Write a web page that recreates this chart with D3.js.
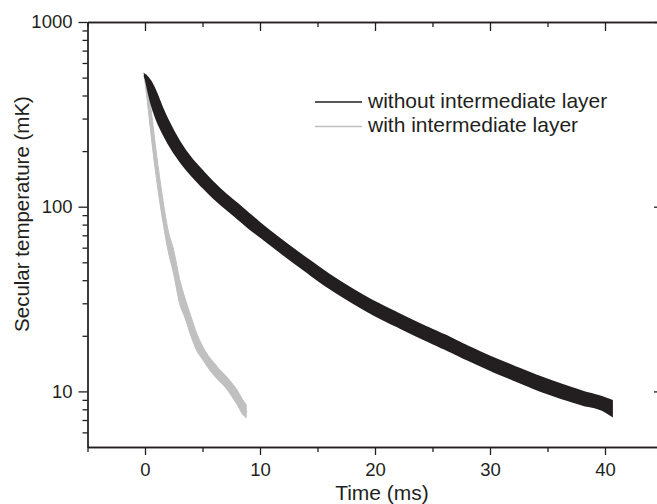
<!DOCTYPE html>
<meta charset="utf-8">
<style>
body { margin: 0; background: #fff; }
.axis path, .axis line { stroke: #231f20; stroke-width: 1.3; }
.axis text { fill: #231f20; }
</style>
<svg width="657" height="504"></svg>
<script src="https://d3js.org/d3.v7.min.js"></script>
<script>

// ---- data (time in ms, temperature in mK) ----
var blackTime = [0, 0.25, 0.5, 1, 1.5, 2, 3, 4, 5, 6, 7, 8, 9, 10, 12, 14, 16, 18, 20,
                 22, 24, 26, 28, 30, 32, 34, 36, 38, 40, 40.6];
var blackMid  = [517, 465, 420, 350, 295, 255, 200, 165, 141, 122, 107, 95, 84, 75, 60, 48.5, 39.5, 33, 28,
                 24.3, 21.2, 18.6, 16.2, 14.2, 12.6, 11.2, 10.1, 9.2, 8.5, 8.1];
var blackHigh = [517, 500, 476, 411, 343, 293, 225, 183, 156, 134, 117, 104, 92, 81.4, 65, 52.6, 42.9, 35.8, 30.4,
                 26.4, 23, 20.2, 17.6, 15.4, 13.7, 12.2, 11, 10, 9.2, 8.9];
var blackLow  = [517, 432, 371, 298, 254, 222, 178, 149, 128, 111, 98, 87, 77, 69, 55.3, 44.7, 36.4, 30.4, 25.8,
                 22.4, 19.5, 17.1, 14.9, 13.1, 11.6, 10.3, 9.3, 8.5, 7.8, 7.4];

var grayTime = [0, 0.5, 1, 1.5, 2, 2.5, 3, 3.5, 4, 4.5, 5, 5.5, 6, 6.5, 7, 7.5, 8, 8.5, 8.8];
var grayMid  = [517, 295, 165, 100, 66, 49.8, 35, 28, 22.5, 18.5, 16.2, 14.5, 13.2, 12.2, 11.3, 10.3, 9.3, 8.2, 7.7];
var grayHigh = [517, 345, 192, 115, 75, 58, 40.8, 31.6, 25.4, 20.6, 17.6, 15.6, 14.3, 13.1, 12.2, 11.2, 10.2, 9.0, 8.5];
var grayLow  = [517, 253, 141, 87, 58, 43, 30, 24.8, 19.9, 16.6, 14.9, 13.4, 12.2, 11.3, 10.5, 9.5, 8.5, 7.5, 7.2];

var seriesNames = ["without intermediate layer", "with intermediate layer"];
var seriesColors = ["#231f20", "#c0c0c0"];

var xMajor = [0, 10, 20, 30, 40];
var xMinor = [-5, 5, 15, 25, 35, 45];
var yMajor = [10, 100, 1000];
var yMinor = [6, 7, 8, 9, 20, 30, 40, 50, 60, 70, 80, 90, 200, 300, 400, 500, 600, 700, 800, 900];

var svg = d3.select("svg"),
    plotLeft = 87.5, plotRight = 662.5, plotTop = 22, plotBottom = 447,
    font = "Arial, 'Liberation Sans', Helvetica, sans-serif";

var x = d3.scaleLinear().domain([-5, 45]).range([plotLeft, plotRight]);
var y = d3.scaleLog().domain([5, 1000]).range([plotBottom, plotTop]);

function rows(t, mid, lo, hi) {
  return t.map(function(d, i) { return {t: d, mid: mid[i], lo: lo[i], hi: hi[i]}; });
}
var gray = rows(grayTime, grayMid, grayLow, grayHigh);
var black = rows(blackTime, blackMid, blackLow, blackHigh);

var band = d3.area()
    .curve(d3.curveMonotoneX)
    .x(function(d) { return x(d.t); })
    .y0(function(d) { return y(d.lo); })
    .y1(function(d) { return y(d.hi); });

var line = d3.line()
    .curve(d3.curveMonotoneX)
    .x(function(d) { return x(d.t); })
    .y(function(d) { return y(d.mid); });

[[gray, seriesColors[1], 1], [black, seriesColors[0], 2]].forEach(function(s) {
  svg.append("path").datum(s[0])
      .attr("d", band)
      .attr("fill", s[1])
      .attr("stroke", s[1])
      .attr("stroke-width", s[2]);
  svg.append("path").datum(s[0])
      .attr("d", line)
      .attr("fill", "none")
      .attr("stroke", s[1])
      .attr("stroke-width", 3);
});

// ---- axes ----
function styleAxis(g) {
  g.attr("class", "axis")
   .attr("font-family", font)
   .attr("font-size", 18.5);
}

// bottom
svg.append("g")
    .attr("transform", "translate(0," + plotBottom + ")")
    .call(d3.axisBottom(x).tickValues(xMinor).tickSize(5).tickSizeOuter(0).tickFormat(""))
    .call(styleAxis);
svg.append("g")
    .attr("transform", "translate(0," + plotBottom + ")")
    .call(d3.axisBottom(x).tickValues(xMajor).tickSize(8).tickPadding(8).tickSizeOuter(0).tickFormat(d3.format("d")))
    .call(styleAxis);

// top (inward ticks)
svg.append("g")
    .attr("transform", "translate(0," + plotTop + ")")
    .call(d3.axisTop(x).tickValues(xMinor).tickSize(-5).tickSizeOuter(0).tickFormat(""))
    .call(styleAxis);
svg.append("g")
    .attr("transform", "translate(0," + plotTop + ")")
    .call(d3.axisTop(x).tickValues(xMajor).tickSize(-9).tickSizeOuter(0).tickFormat(""))
    .call(styleAxis);

// left
svg.append("g")
    .attr("transform", "translate(" + plotLeft + ",0)")
    .call(d3.axisLeft(y).tickValues(yMinor).tickSize(5).tickSizeOuter(0).tickFormat(""))
    .call(styleAxis);
svg.append("g")
    .attr("transform", "translate(" + plotLeft + ",0)")
    .call(d3.axisLeft(y).tickValues(yMajor).tickSize(9).tickPadding(6).tickSizeOuter(0).tickFormat(d3.format("d")))
    .call(styleAxis);

// right (inward ticks, axis line sits just past the edge)
svg.append("g")
    .attr("transform", "translate(" + plotRight + ",0)")
    .call(d3.axisRight(y).tickValues(yMinor).tickSize(-5).tickSizeOuter(0).tickFormat(""))
    .call(styleAxis);
svg.append("g")
    .attr("transform", "translate(" + plotRight + ",0)")
    .call(d3.axisRight(y).tickValues(yMajor).tickSize(-8.5).tickSizeOuter(0).tickFormat(""))
    .call(styleAxis);

// ---- axis titles ----
svg.append("text")
    .attr("x", 382)
    .attr("y", 500)
    .attr("text-anchor", "middle")
    .attr("font-family", font)
    .attr("font-size", 21)
    .attr("fill", "#231f20")
    .text("Time (ms)");

svg.append("text")
    .attr("transform", "translate(28.5,214) rotate(-90)")
    .attr("text-anchor", "middle")
    .attr("font-family", font)
    .attr("font-size", 20.5)
    .attr("fill", "#231f20")
    .text("Secular temperature (mK)");

// ---- legend ----
var legend = svg.append("g").attr("transform", "translate(315,102)");
seriesNames.forEach(function(name, i) {
  var g = legend.append("g").attr("transform", "translate(0," + (i * 24.5) + ")");
  g.append("line")
      .attr("x1", 0).attr("x2", 47)
      .attr("stroke", seriesColors[i])
      .attr("stroke-width", 1.6);
  g.append("text")
      .attr("x", 53)
      .attr("y", 5.5)
      .attr("font-family", font)
      .attr("font-size", 21)
      .attr("fill", "#231f20")
      .text(name);
});

</script>
